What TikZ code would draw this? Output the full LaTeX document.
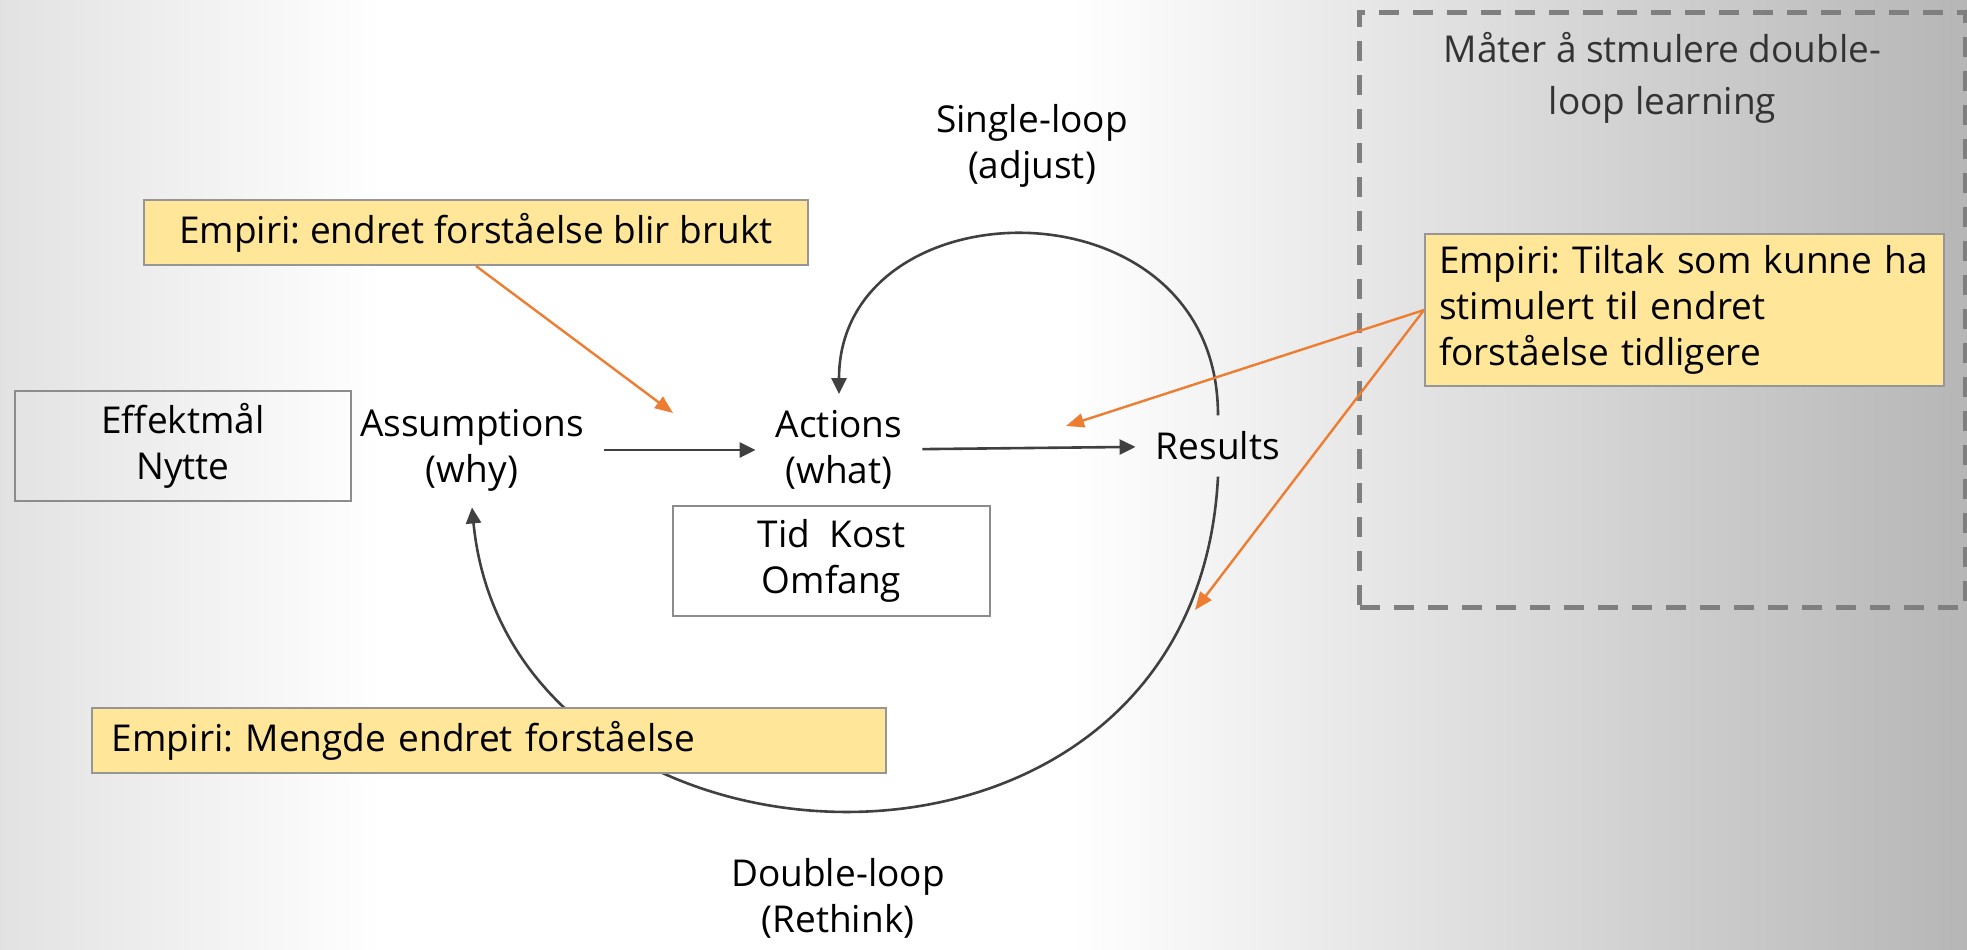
\documentclass[tikz,border=0pt]{standalone}
\usepackage{fontspec}
\setmainfont{Open Sans}
\frenchspacing
\usetikzlibrary{positioning,arrows.meta}
\definecolor{linegray}{RGB}{64,64,64}
\definecolor{boxgray}{RGB}{140,140,140}
\definecolor{notefill}{RGB}{255,230,153}
\definecolor{noteline}{RGB}{150,150,150}
\definecolor{empiri}{RGB}{237,125,49}
\definecolor{bgleft}{RGB}{226,226,226}
\definecolor{bgright}{RGB}{182,182,182}
\definecolor{framegray}{RGB}{127,127,127}
\definecolor{titlegray}{RGB}{51,51,51}
\pgfdeclarehorizontalshading{bgshade}{100bp}{color(0bp)=(bgleft); color(25bp)=(bgleft); color(34.7bp)=(white); color(52.2bp)=(white); color(75bp)=(bgright); color(100bp)=(bgright)}
\newcommand{\txtsize}{\fontsize{18.5}{23}\selectfont}

\begin{document}
\begin{tikzpicture}[x=0.5pt,y=-0.5pt,
      every node/.style={font=\txtsize},
      lbl/.style={align=center,inner xsep=10pt,inner ysep=8pt},
      box/.style={draw=boxgray,line width=1pt,align=center,minimum height=55pt},
      note/.style={draw=noteline,line width=1pt,fill=notefill,minimum height=32.5pt},
      dashframe/.style={draw=framegray,line width=2.5pt,dash pattern=on 10pt off 7pt},
      arrow/.style={-{Triangle[length=8pt,width=7.5pt]},line width=1.3pt,draw=linegray},
      oarrow/.style={-{Triangle[length=9pt,width=7pt]},line width=1.2pt,draw=empiri}]
    \useasboundingbox (0,0) rectangle (1967,949);
    \shade[shading=bgshade] (0,0) rectangle (1967,949);
    \node[box,minimum width=168pt] (goal) at (183,446) {Effektmål\\Nytte};
    \node[lbl] (ass) at (472,450) {Assumptions\\(why)};
    \node[lbl] (act) at (839,450) {Actions\\(what)};
    \node[lbl] (res) at (1218,446) {Results};
    \node[box,minimum width=158.5pt] (tid) at (831.5,561) {Tid~ Kost\\Omfang};
    \node[lbl] (single) at (1032,146) {Single-loop\\(adjust)};
    \node[lbl] (double) at (838,898) {Double-loop\\(Rethink)};
    \node[dashframe,minimum width=303pt,minimum height=297.5pt] (frame) at (1662.5,309.5) {};
    \node[align=center,text=titlegray,font=\fontsize{18.5}{26}\selectfont,below=8pt of frame.north] (title) {Måter å stmulere double-\\loop learning};
    \draw[arrow] (ass) -- (act);
    \draw[arrow] (act) -- (res);
    \draw[arrow] (res.north) .. controls +(0,-241) and +(0,-212) .. (act.north);
    \draw[arrow] (res.south) .. controls +(-23,456) and +(38,392) .. (ass.south);
    \node[note,minimum width=332pt] (emp1) at (476,232.5) {Empiri: endret forståelse blir brukt};
    \node[note,text width=245.5pt,inner xsep=7pt,align=left,minimum height=76pt] (emp2) at (1684.5,310) {Empiri: Tiltak som kunne ha\\stimulert til endret\\forståelse tidligere};
    \node[note,text width=377pt,inner xsep=10pt,align=left] (emp3) at (489,740.5) {Empiri: Mengde endret forståelse};
    \coordinate (hitact) at (673,413);
    \coordinate (hitres) at (1066,426);
    \coordinate (hitloop) at (1195,610);
    \draw[oarrow] (emp1.south) -- (hitact);
    \draw[oarrow] (emp2.west) -- (hitres);
    \draw[oarrow] (emp2.west) -- (hitloop);
  \end{tikzpicture}
\end{document}
